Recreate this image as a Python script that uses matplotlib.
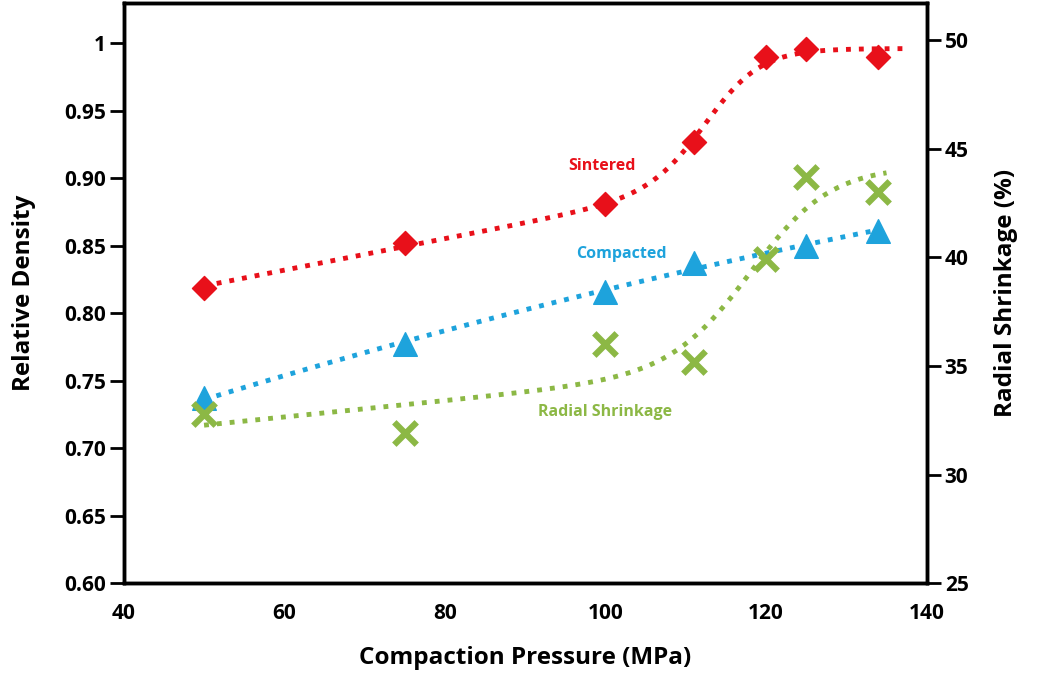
import numpy as np
import matplotlib
matplotlib.use("Agg")
import matplotlib.pyplot as plt

plt.rcParams["font.family"] = ["Open Sans", "DejaVu Sans"]

# measured values
pressure_sint = [50, 75, 100, 111, 120, 125, 134]
density_sint = [0.819, 0.852, 0.881, 0.927, 0.990, 0.996, 0.990]

pressure_comp = [50, 75, 100, 111, 125, 134]
density_comp = [0.737, 0.777, 0.816, 0.837, 0.850, 0.861]

pressure_shr = [50, 75, 100, 111, 120, 125, 134]
shrinkage = [32.8, 31.9, 36.0, 35.2, 39.9, 43.7, 43.0]

RED = "#e8101a"
BLUE = "#1ea3dc"
GREEN = "#8cb845"


def step_trend(x, y, x0, x1, wmin=4.5):
    # sloped start, logistic rise, flat plateau; centre/width by grid search
    x = np.asarray(x, float)
    y = np.asarray(y, float)

    def basis(t, c, w):
        s = 1 / (1 + np.exp(-(t - c) / w))
        return np.column_stack([np.ones_like(t), s, (t - 50) * (1 - s)])

    best = None
    for c in np.linspace(100, 130, 121):
        for w in np.linspace(wmin, 10, 45):
            A = basis(x, c, w)
            coef, *_ = np.linalg.lstsq(A, y, rcond=None)
            err = np.sum((A @ coef - y) ** 2)
            if best is None or err < best[0]:
                best = (err, c, w, coef)
    _, c, w, coef = best
    xs = np.linspace(x0, x1, 200)
    return xs, basis(xs, c, w) @ coef


fig = plt.figure(figsize=(10.4, 6.75), dpi=100)
ax = fig.add_axes([0.119, 0.136, 0.772, 0.8596])
ax2 = ax.twinx()

# dotted trend lines
xs, ys = step_trend(pressure_sint, density_sint, 50, 137, wmin=3.5)
ax.plot(xs, ys, ls=":", lw=3.5, color=RED, zorder=2)
coef = np.polyfit(pressure_comp, density_comp, 2)
xs = np.linspace(50, 134, 100)
ax.plot(xs, np.polyval(coef, xs), ls=":", lw=3.5, color=BLUE, zorder=2)
xs, ys = step_trend(pressure_shr, shrinkage, 50, 135, wmin=5)
ax2.plot(xs, ys, ls=":", lw=3.5, color=GREEN, zorder=2)

ax.scatter(pressure_sint, density_sint, marker="D", s=150, color=RED, zorder=3)
ax.scatter(pressure_comp, density_comp, marker="^", s=290, color=BLUE, zorder=3)
ax2.scatter(pressure_shr, shrinkage, marker="x", s=260, linewidths=4.5,
            color=GREEN, zorder=3)

ax.text(99.5, 0.909, "Sintered", color=RED, fontsize=11.5, fontweight="bold",
        ha="center", va="center")
ax.text(102, 0.844, "Compacted", color=BLUE, fontsize=11.5, fontweight="bold",
        ha="center", va="center")
ax.text(100, 0.727, "Radial Shrinkage", color=GREEN, fontsize=11.5,
        fontweight="bold", ha="center", va="center")

ax.set_xlim(40, 140)
ax.set_ylim(0.60, 1.03)
ax2.set_ylim(25, 51.7)

ax.set_xticks([40, 60, 80, 100, 120, 140])
ax.set_yticks([0.60, 0.65, 0.70, 0.75, 0.80, 0.85, 0.90, 0.95, 1.0])
ax.set_yticklabels(["0.60", "0.65", "0.70", "0.75", "0.80", "0.85", "0.90",
                    "0.95", "1"])
ax2.set_yticks([25, 30, 35, 40, 45, 50])

for a in (ax, ax2):
    for s in a.spines.values():
        s.set_linewidth(2.5)
    a.tick_params(axis="y", length=10, width=2, labelsize=15, pad=3)
ax.tick_params(axis="x", length=0, labelsize=15, pad=14)
for lbl in ax.get_xticklabels() + ax.get_yticklabels() + ax2.get_yticklabels():
    lbl.set_fontweight("bold")

ax.set_xlabel("Compaction Pressure (MPa)", fontsize=17.5, fontweight="bold",
              labelpad=16)
ax.set_ylabel("Relative Density", fontsize=17.5, fontweight="bold",
              labelpad=20)
ax2.set_ylabel("Radial Shrinkage (%)", fontsize=17.5, fontweight="bold",
               labelpad=18)

fig.savefig("out.png", dpi=100)
